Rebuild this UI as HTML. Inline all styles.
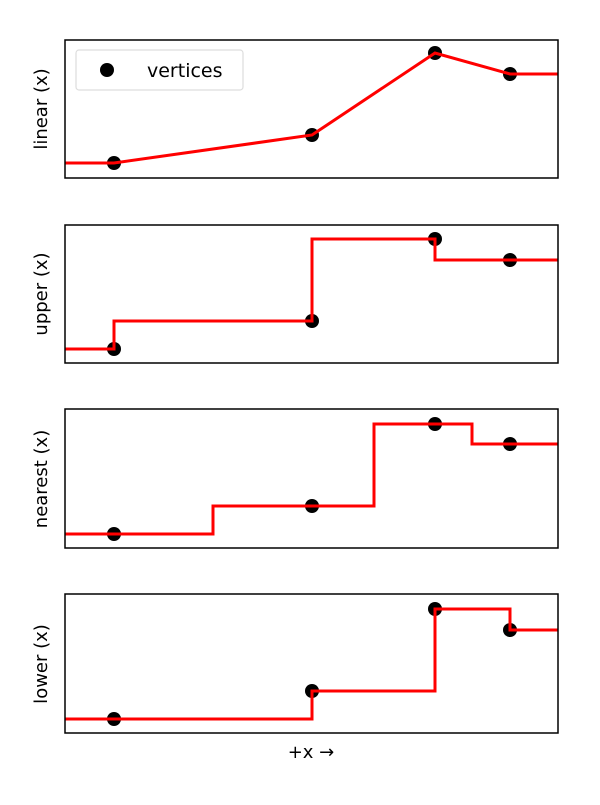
<!DOCTYPE html>
<html><head><meta charset="utf-8"><style>body{margin:0;background:#fff}</style></head><body>
<svg width="600" height="800" xmlns="http://www.w3.org/2000/svg" font-family="DejaVu Sans, Liberation Sans, sans-serif">
<g fill="#000">
<circle cx="114" cy="163" r="7"/><circle cx="312" cy="135" r="7"/><circle cx="435" cy="53" r="7"/><circle cx="510" cy="74" r="7"/>
<circle cx="114" cy="349" r="7"/><circle cx="312" cy="321" r="7"/><circle cx="435" cy="239" r="7"/><circle cx="510" cy="260" r="7"/>
<circle cx="114" cy="534" r="7"/><circle cx="312" cy="506" r="7"/><circle cx="435" cy="424" r="7"/><circle cx="510" cy="444" r="7"/>
<circle cx="114" cy="719" r="7"/><circle cx="312" cy="691" r="7"/><circle cx="435" cy="609" r="7"/><circle cx="510" cy="630" r="7"/>
</g>
<g fill="none" stroke="#f00" stroke-width="3" stroke-linejoin="miter">
<polyline points="65,163 114,163 312,135 435,53 510,74 558,74"/>
<polyline points="65,349 114,349 114,321 312,321 312,239 435,239 435,260 558,260"/>
<polyline points="65,534 213,534 213,506 374,506 374,424 472,424 472,444 558,444"/>
<polyline points="65,719 312,719 312,691 435,691 435,609 510,609 510,630 558,630"/>
</g>
<g fill="none" stroke="#000" stroke-width="1.5">
<rect x="65" y="40" width="493" height="138"/>
<rect x="65" y="225" width="493" height="138"/>
<rect x="65" y="409" width="493" height="139"/>
<rect x="65" y="594" width="493" height="139"/>
</g>
<rect x="76" y="50" width="167" height="40" rx="3" fill="#fff" fill-opacity="0.8" stroke="#ddd" stroke-width="1.2"/>
<circle cx="107" cy="70" r="7" fill="#000"/>
<text x="147" y="77" font-size="19">vertices</text>
<g font-size="18" text-anchor="middle">
<text transform="translate(47,109) rotate(-90)">linear (x)</text>
<text transform="translate(47,294) rotate(-90)">upper (x)</text>
<text transform="translate(47,479) rotate(-90)">nearest (x)</text>
<text transform="translate(47,664) rotate(-90)">lower (x)</text>
<text x="311" y="758">+x →</text>
</g>
</svg>
</body></html>
